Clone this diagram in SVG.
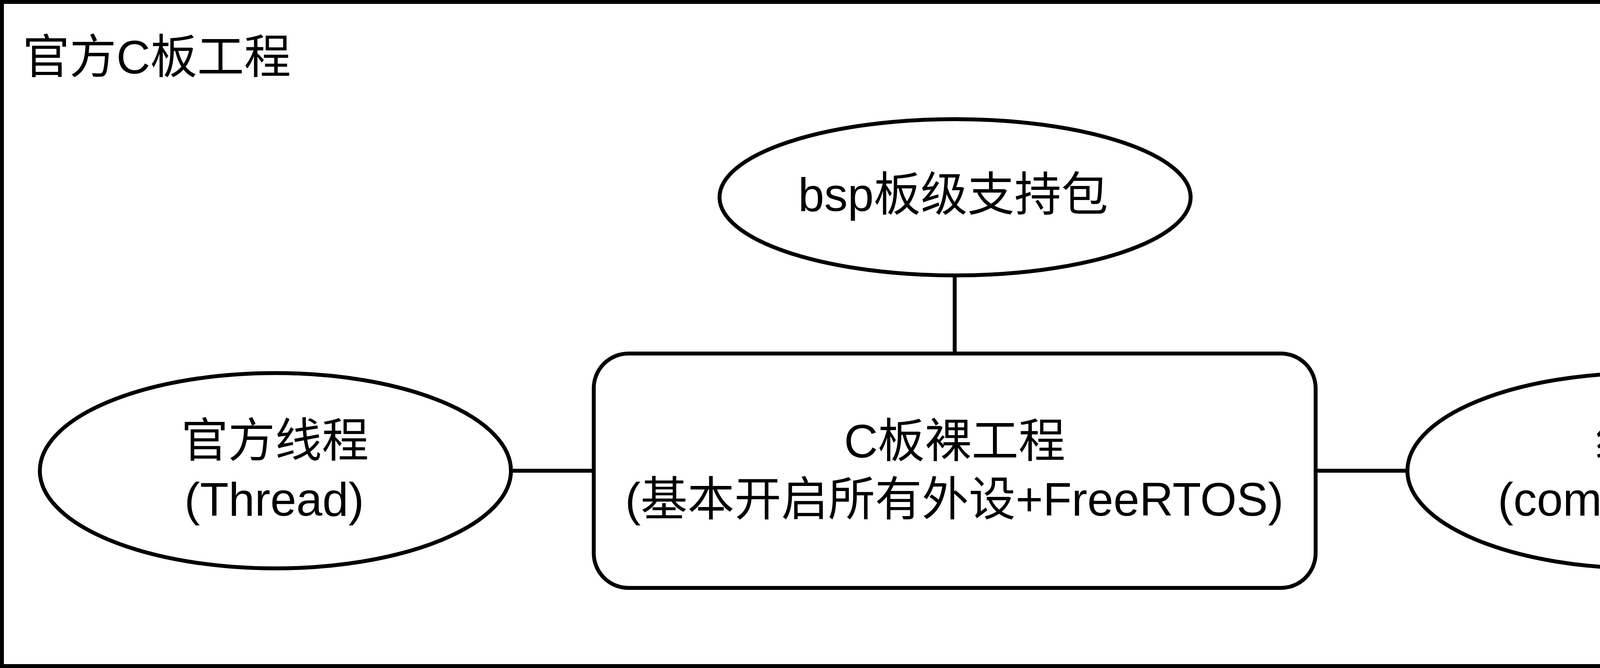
<svg xmlns="http://www.w3.org/2000/svg" width="4910" height="1710" viewBox="0 0 4910 1710">
<style>
.shape{fill:#ffffff;stroke:#000000;stroke-width:10}
.conn{stroke:#000000;stroke-width:10;fill:none}
.t{font-family:"Liberation Sans","Noto Sans CJK SC",sans-serif;font-size:120px;fill:#000000}
.m{text-anchor:middle}
</style>
<rect width="4910" height="1710" fill="#ffffff"/>
<g id="frame">
<rect class="shape" x="5" y="5" width="4900" height="1700"/>
<text class="t" x="58" y="188">官方C板工程</text>
</g>
<g id="connectors">
<line class="conn" x1="2444" y1="705" x2="2444" y2="905"/>
<line class="conn" x1="1308" y1="1205" x2="1520" y2="1205"/>
<line class="conn" x1="3368" y1="1205" x2="3603" y2="1205"/>
</g>
<g id="bsp">
<ellipse class="shape" cx="2445" cy="505" rx="603" ry="200"/>
<text class="t m" x="2440" y="540">bsp板级支持包</text>
</g>
<g id="core">
<rect class="shape" x="1520" y="905" width="1848" height="600" rx="89" ry="89"/>
<text class="t m" x="2444" y="1171">C板裸工程</text>
<text class="t m" x="2443" y="1320">(基本开启所有外设+FreeRTOS)</text>
</g>
<g id="thread">
<ellipse class="shape" cx="705" cy="1205" rx="603" ry="250"/>
<text class="t m" x="704" y="1170">官方线程</text>
<text class="t m" x="702" y="1320">(Thread)</text>
</g>
<g id="components">
<ellipse class="shape" cx="4205" cy="1205" rx="602" ry="250"/>
<text class="t m" x="4203" y="1170">组件</text>
<text class="t m" x="4201" y="1320">(components)</text>
</g>
</svg>
